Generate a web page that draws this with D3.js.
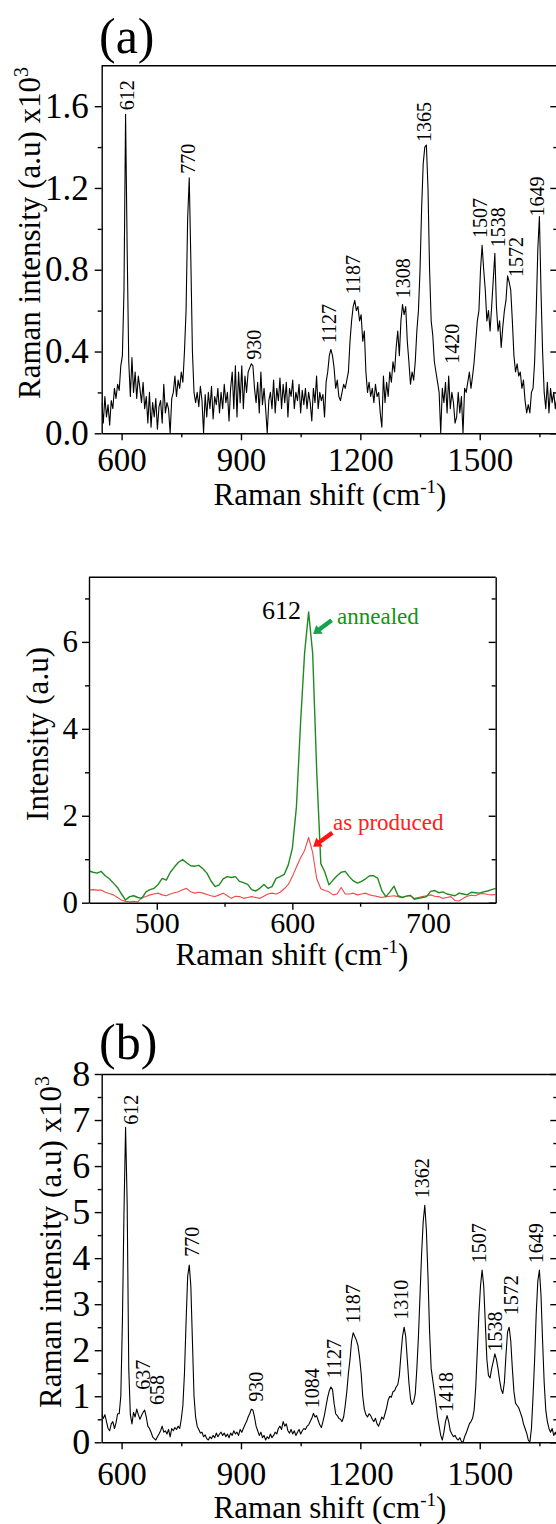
<!DOCTYPE html>
<html>
<head>
<meta charset="utf-8">
<script src="https://cdn.jsdelivr.net/npm/d3@7"></script>
<style>
  body { margin: 0; background: #fff; }
  svg { display: block; }
  .axis path, .axis line { stroke: #000; stroke-width: 1.4px; }
</style>
</head>
<body>
<div id="chart"></div>
<script>
(function() {
  'use strict';

  // ---------- data ----------
  // each row: first shift (cm-1), then intensities every 4 cm-1 (x10^3)
  var ramanA = [
    [550, .15, .05, .18, .08, .14, .04, .16, .12, .22, .17],
    [590, .24, .21, .33, .38, .7, 1.56, .9, .35, .18, .37],
    [630, .2, .3, .17, .28, .22, .15, .25, .12, .18, .05],
    [670, .2, .03, .15, .08, .17, .02, .13, .16, .05, .24],
    [710, .1, .15, .12, 0, .17, .2, .28, .18, .26, .22],
    [750, .3, .25, .4, .6, 1.05, 1.25, .85, .4, .2, .15],
    [790, .2, .13, .23, .16, 0, .19, .08, .2, .12, .23],
    [830, .07, .18, .14, .22, .1, .2, .12, .24, .15, .2],
    [870, .06, .22, .3, .12, .33, .08, .3, .15, .33, .12],
    [910, .28, .2, .3, .32, .34, .33, .22, .15, .25, .1],
    [950, .3, .14, .22, .12, 0, .16, .2, .12, .26, .1],
    [990, .22, .16, .27, .12, .24, .15, .25, .08, .22, .18],
    [1030, .26, .12, .2, .16, .24, .1, .21, .14, .22, .12],
    [1070, .2, .15, .06, .22, .15, .28, .12, .2, .16, .19],
    [1110, .08, .25, .3, .38, .41, .38, .32, .22, .26, .18],
    [1150, .16, .2, .24, .22, .26, .3, .45, .55, .62, .65],
    [1190, .6, .62, .55, .58, .45, .5, .3, .2, .25, .18],
    [1230, .22, .15, .24, .18, .2, .1, .03, .28, .15, .25],
    [1270, .18, .3, .25, .35, .3, .42, .5, .38, .55, .63],
    [1310, .58, .62, .45, .35, .24, .3, .26, .35, .5, .6],
    [1350, .8, 1.1, 1.32, 1.4, 1.41, 1.2, .8, .55, .48, .35],
    [1390, .3, .25, .2, 0, .22, .15, .25, .1, .28, .12],
    [1430, .2, .15, .05, .08, .2, .1, .18, 0, .22, .2],
    [1470, .25, .3, .22, .28, .35, .45, .55, .6, .8, .92],
    [1510, .8, .7, .55, .6, .5, .62, .75, .88, .62, .5],
    [1550, .55, .42, .52, .6, .65, .77, .74, .7, .55, .38],
    [1590, .3, .34, .28, .3, .22, .26, .16, .1, .14, .1],
    [1630, .2, .22, .35, .6, .9, 1.06, .7, .4, .2, .12],
    [1670, .25, .1, .22, .15, .2, .12, .18, .14]
  ];
  var peakTextA  = ["612", "770", "930", "1127", "1187", "1308", "1365", "1420", "1507", "1538", "1572", "1649"];
  var peakShiftA = [614, 768, 933, 1121, 1183, 1307, 1361, 1432, 1501, 1546, 1593, 1645];
  var peakLevelA = [1.58, 1.27, 0.36, 0.44, 0.68, 0.66, 1.425, 0.34, 0.955, 0.91, 0.765, 1.06];

  // middle inset: first shift, then intensities every 3 cm-1
  var annealedM = [
    [450, .73, .7, .68, .72, .62, .55, .45, .35, .2, .06],
    [480, .14, .16, .12, .1, .25, .3, .33, .42, .56, .52],
    [510, .7, .82, .93, .99, .92, .85, .84, .86, .78, .68],
    [540, .5, .37, .41, .55, .6, .58, .6, .49, .46, .42],
    [570, .3, .27, .33, .42, .33, .37, .56, .6, .65, .87],
    [600, 1.25, 2.2, 4.1, 5.73, 6.69, 5.73, 3.0, .9, .7, .41],
    [630, .52, .62, .7, .72, .6, .5, .45, .49, .55, .62],
    [660, .62, .56, .28, .14, .25, .38, .16, .12, .15, .17],
    [690, .08, .1, .12, .14, .26, .28, .23, .25, .2, .18],
    [720, .16, .22, .2, .18, .24, .23, .22, .25, .27, .3],
    [750, .33]
  ];
  var producedM = [
    [450, .29, .3, .29, .29, .24, .21, .18, .12, .06, .03],
    [480, .02, .03, .02, .12, .14, .18, .2, .22, .18, .16],
    [510, .2, .23, .25, .3, .33, .25, .22, .24, .22, .19],
    [540, .16, .14, .18, .22, .16, .1, .15, .14, .1, .12],
    [570, .14, .12, .1, .15, .2, .22, .2, .24, .32, .42],
    [600, .6, .82, 1.03, 1.2, 1.5, 1.15, .55, .32, .28, .25],
    [630, .18, .2, .35, .2, .2, .22, .18, .2, .22, .18],
    [660, .16, .14, .12, .14, .15, .16, .14, .12, .15, .16],
    [690, .1, .12, .14, .16, .18, .15, .14, .1, .12, .14],
    [720, .05, .04, .1, .15, .17, .16, .2, .21, .19, .18],
    [750, .19]
  ];
  var noteText  = ["annealed", "as produced"];
  var noteShift = [633, 630];
  var noteLevel = [6.41, 1.67];
  var arrowFrom = [[629, 6.5], [629.5, 1.61]];
  var arrowTo   = [[615.3, 6.18], [615.3, 1.29]];

  var ramanB = [
    [550, .6, .52, .6, .45, .3, .25, .4, .45, .3, .42],
    [590, .62, .62, 1.0, 2.6, 5.0, 6.84, 5.2, 1.6, .6, .4],
    [630, .65, .55, .72, .6, .5, .58, .65, .7, .55, .35],
    [670, .3, .22, .12, .08, .05, .12, .18, .25, .35, .22],
    [710, .25, .18, .28, .12, .3, .25, .32, .28, .35, .3],
    [750, .5, .8, 1.5, 2.6, 3.6, 3.85, 3.4, 2.2, 1.0, .55],
    [790, .35, .28, .2, .22, .12, .16, .08, .05, .12, .08],
    [830, .15, .1, .2, .12, .18, .22, .15, .2, .12, .18],
    [870, .1, .2, .15, .25, .18, .22, .15, .28, .22, .3],
    [910, .38, .45, .55, .62, .72, .7, .55, .35, .25, .15],
    [950, .22, .1, .15, .05, .12, .08, .18, .1, .15, .22],
    [990, .18, .3, .35, .28, .45, .35, .4, .25, .2, .28],
    [1030, .18, .25, .15, .22, .28, .18, .25, .3, .28, .35],
    [1070, .38, .45, .52, .63, .55, .58, .48, .38, .32, .45],
    [1110, .6, .8, .98, 1.12, 1.2, 1.15, .85, .62, .58, .52],
    [1150, .5, .45, .55, .8, 1.1, 1.5, 1.8, 2.2, 2.38, 2.3],
    [1190, 2.22, 2.1, 1.85, 1.5, 1.0, .72, .6, .55, .62, .58],
    [1230, .5, .45, .52, .4, .35, .45, .55, .5, .62, .75],
    [1270, .92, 1.0, .98, 1.1, 1.12, 1.2, 1.25, 1.45, 1.9, 2.3],
    [1310, 2.5, 2.3, 1.8, 1.3, .95, .82, .88, 1.05, 1.6, 2.3],
    [1350, 3.2, 4.1, 4.8, 5.15, 4.6, 3.6, 2.4, 1.6, 1.35, 1.1],
    [1390, .85, .55, .35, .15, .05, .22, .45, .58, .45, .25],
    [1430, .18, .12, .15, .08, .05, .1, .02, 0, .12, .2],
    [1470, .3, .4, .45, .52, .7, 1.2, 2.0, 2.8, 3.4, 3.74],
    [1510, 3.4, 2.6, 1.8, 1.45, 1.4, 1.6, 1.75, 1.92, 1.8, 1.6],
    [1550, 1.35, 1.15, 1.06, 1.3, 1.9, 2.4, 2.5, 2.2, 1.6, 1.1],
    [1590, .85, .8, .75, .65, .55, .4, .3, .2, .05, 0],
    [1630, .3, 1.0, 1.8, 2.8, 3.5, 3.74, 3.2, 2.2, 1.3, .7],
    [1670, .45, .3, .22, .3, .15, .22, .12, .18]
  ];
  var peakTextB  = ["612", "637", "658", "770", "930", "1084", "1127", "1187", "1310", "1362", "1418", "1507", "1538", "1572", "1649"];
  var peakShiftB = [624, 655, 691, 777, 938, 1080, 1134, 1183, 1303, 1357, 1415, 1499, 1540, 1580, 1642];
  var peakLevelB = [6.9, 1.14, 0.81, 4.03, 0.88, 0.74, 1.39, 2.58, 2.66, 5.3, 0.66, 3.89, 1.97, 2.76, 3.89];

  var xTicksA = [600, 900, 1200, 1500], xMinorA = [750, 1050, 1350, 1650];
  var yTicksA = [0, 0.4, 0.8, 1.2, 1.6], yMinorA = [0.2, 0.6, 1.0, 1.4];
  var xTicksM = [500, 600, 700], xMinorM = [550, 650];
  var yTicksM = [0, 2, 4, 6], yMinorM = [1, 3, 5, 7];
  var yTicksB = [0, 1, 2, 3, 4, 5, 6, 7, 8], yMinorB = [0.5, 1.5, 2.5, 3.5, 4.5, 5.5, 6.5, 7.5];

  // ---------- drawing ----------
  var serif = '"Liberation Serif", "Times New Roman", Times, serif';

  function unroll(rows, step) {
    var pts = [];
    rows.forEach(function(r) {
      r.slice(1).forEach(function(v, i) { pts.push([r[0] + i * step, v]); });
    });
    return pts;
  }

  var svg = d3.select("#chart").append("svg")
    .attr("width", 556)
    .attr("height", 1524)
    .style("font-family", serif);

  function drawPanel(p) {
    var x = d3.scaleLinear().domain(p.xDomain).range([p.left, p.right]);
    var y = d3.scaleLinear().domain(p.yDomain).range([p.bottom, p.top]);
    var g = svg.append("g");

    svg.append("clipPath").attr("id", "clip-" + p.id)
      .append("rect")
      .attr("x", p.left).attr("y", p.top)
      .attr("width", p.right - p.left).attr("height", p.bottom - p.top);

    p.series.forEach(function(s) {
      g.append("path")
        .datum(s.points)
        .attr("clip-path", "url(#clip-" + p.id + ")")
        .attr("fill", "none")
        .attr("stroke", s.color)
        .attr("stroke-width", s.width)
        .attr("stroke-linejoin", "round")
        .attr("d", d3.line().x(function(d) { return x(d[0]); }).y(function(d) { return y(d[1]); }));
    });

    // bottom
    var xAxis = g.append("g").attr("class", "axis")
      .attr("transform", "translate(0," + p.bottom + ")")
      .call(d3.axisBottom(x).tickValues(p.xTicks).tickSize(7).tickSizeOuter(0).tickFormat(d3.format("d")))
      .attr("font-family", serif).attr("font-size", p.xFont);
    xAxis.selectAll("text").attr("y", p.xLabelGap).attr("dy", null);
    g.append("g").attr("class", "axis")
      .attr("transform", "translate(0," + p.bottom + ")")
      .call(d3.axisBottom(x).tickValues(p.xMinor).tickSize(4).tickFormat(""))
      .select(".domain").remove();

    // left
    g.append("g").attr("class", "axis")
      .attr("transform", "translate(" + p.left + ",0)")
      .call(d3.axisLeft(y).tickValues(p.yTicks).tickSize(7).tickSizeOuter(0)
        .tickPadding(p.yPad).tickFormat(p.yFormat))
      .attr("font-family", serif).attr("font-size", p.yFont);
    g.append("g").attr("class", "axis")
      .attr("transform", "translate(" + p.left + ",0)")
      .call(d3.axisLeft(y).tickValues(p.yMinor).tickSize(4).tickFormat(""))
      .select(".domain").remove();

    // right, ticks inward
    g.append("g").attr("class", "axis")
      .attr("transform", "translate(" + p.right + ",0)")
      .call(d3.axisLeft(y).tickValues(p.yTicks).tickSize(p.rightTick).tickSizeOuter(0).tickFormat(""));
    g.append("g").attr("class", "axis")
      .attr("transform", "translate(" + p.right + ",0)")
      .call(d3.axisLeft(y).tickValues(p.yMinor).tickSize(p.rightTick - 3).tickFormat(""))
      .select(".domain").remove();

    // top
    g.append("line")
      .attr("x1", p.left).attr("x2", p.right)
      .attr("y1", p.top + 0.5).attr("y2", p.top + 0.5)
      .attr("stroke", "#000").attr("stroke-width", 1.4);

    return { x: x, y: y, g: g };
  }

  function xTitle(cx, baseline) {
    var t = svg.append("text")
      .attr("x", cx).attr("y", baseline)
      .attr("text-anchor", "middle")
      .attr("font-size", 31);
    t.append("tspan").text("Raman shift (cm");
    t.append("tspan").attr("dy", -12).attr("font-size", 19).text("-1");
    t.append("tspan").attr("dy", 12).text(")");
  }

  function yTitle(bx, cy, label, sup) {
    var t = svg.append("text")
      .attr("transform", "translate(" + bx + "," + cy + ") rotate(-90)")
      .attr("text-anchor", "middle")
      .attr("font-size", 31);
    t.append("tspan").text(label);
    if (sup) t.append("tspan").attr("dy", -12).attr("font-size", 20).text(sup);
  }

  function peakLabels(pan, texts, shifts, levels) {
    pan.g.selectAll(".peak")
      .data(texts)
      .enter().append("text")
      .attr("class", "peak")
      .attr("transform", function(d, i) {
        return "translate(" + pan.x(shifts[i]) + "," + pan.y(levels[i]) + ") rotate(-90)";
      })
      .attr("dy", "0.33em")
      .attr("font-size", 20)
      .text(function(d) { return d; });
  }

  // ----- panel (a) -----
  var panA = drawPanel({
    id: "a", xDomain: [550, 1700], yDomain: [0, 1.8],
    left: 101.7, right: 559.3, top: 65.3, bottom: 433.3,
    xTicks: xTicksA, xMinor: xMinorA, yTicks: yTicksA, yMinor: yMinorA,
    yFormat: d3.format(".1f"), yPad: 6, xLabelGap: 38, rightTick: 9, xFont: 33, yFont: 35,
    series: [{ points: unroll(ramanA, 4), color: "#000", width: 1.1 }]
  });
  peakLabels(panA, peakTextA, peakShiftA, peakLevelA);
  svg.append("text").attr("x", 99).attr("y", 53).attr("font-size", 50).text("(a)");
  yTitle(40, 233, "Raman intensity (a.u) x10", "3");
  xTitle(330, 505);

  // ----- middle inset -----
  var panM = drawPanel({
    id: "m", xDomain: [450, 750], yDomain: [0, 7.5],
    left: 89, right: 495.7, top: 576.7, bottom: 902.7,
    xTicks: xTicksM, xMinor: xMinorM, yTicks: yTicksM, yMinor: yMinorM,
    yFormat: d3.format("d"), yPad: 4, xLabelGap: 30.5, rightTick: 7, xFont: 30, yFont: 31,
    series: [
      { points: unroll(producedM, 3), color: "#f24848", width: 1.1 },
      { points: unroll(annealedM, 3), color: "#1f8a1f", width: 1.4 }
    ]
  });
  yTitle(48, 734, "Intensity (a.u)");
  xTitle(292, 965);

  svg.append("text")
    .attr("x", panM.x(606.4)).attr("y", panM.y(6.52))
    .attr("text-anchor", "end").attr("font-size", 26)
    .text("612");

  var noteColor = ["#129412", "#ff2020"];
  var arrowColor = ["#14a44d", "#ff1414"];
  noteText.forEach(function(txt, i) {
    svg.append("text")
      .attr("x", panM.x(noteShift[i])).attr("y", panM.y(noteLevel[i]))
      .attr("font-size", 23).attr("fill", noteColor[i])
      .text(txt);

    var x0 = panM.x(arrowFrom[i][0]), y0 = panM.y(arrowFrom[i][1]);
    var x1 = panM.x(arrowTo[i][0]), y1 = panM.y(arrowTo[i][1]);
    var len = Math.hypot(x1 - x0, y1 - y0);
    var ux = (x1 - x0) / len, uy = (y1 - y0) / len;
    var nx = -uy, ny = ux;
    var head = 8, hw = 5.5, sw = 2.2;
    var bx = x1 - ux * head, by = y1 - uy * head;
    var pts = [
      [x0 + nx * sw, y0 + ny * sw], [bx + nx * sw, by + ny * sw], [bx + nx * hw, by + ny * hw],
      [x1, y1],
      [bx - nx * hw, by - ny * hw], [bx - nx * sw, by - ny * sw], [x0 - nx * sw, y0 - ny * sw]
    ];
    svg.append("path")
      .attr("d", "M" + pts.join("L") + "Z")
      .attr("fill", arrowColor[i]);
  });

  // ----- panel (b) -----
  var panB = drawPanel({
    id: "b", xDomain: [550, 1700], yDomain: [0, 8],
    left: 101.7, right: 559.3, top: 1074, bottom: 1442.3,
    xTicks: xTicksA, xMinor: xMinorA, yTicks: yTicksB, yMinor: yMinorB,
    yFormat: d3.format("d"), yPad: 4.5, xLabelGap: 42.5, rightTick: 9, xFont: 33, yFont: 36,
    series: [{ points: unroll(ramanB, 4), color: "#000", width: 1.1 }]
  });
  peakLabels(panB, peakTextB, peakShiftB, peakLevelB);
  svg.append("text").attr("x", 99).attr("y", 1059).attr("font-size", 50).text("(b)");
  yTitle(61, 1242, "Raman intensity (a.u) x10", "3");
  xTitle(330, 1518);

})();
</script>
</body>
</html>
